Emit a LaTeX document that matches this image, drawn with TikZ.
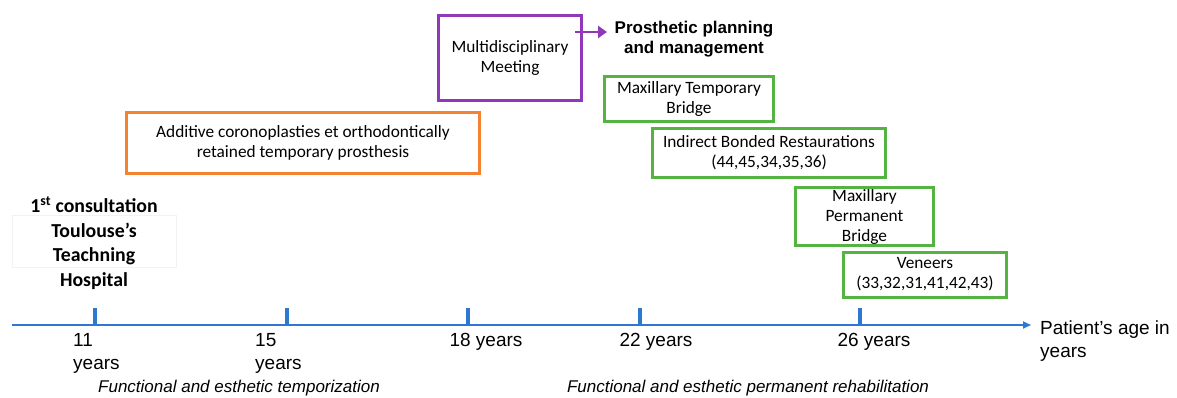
\documentclass[tikz,border=0pt]{standalone}
\usepackage{fontspec}
\setmainfont{Carlito}
\newfontfamily\arialfont{Liberation Sans}
\usetikzlibrary{arrows.meta}
\definecolor{tlblue}{RGB}{45,120,210}
\definecolor{mdpurple}{RGB}{145,55,185}
\definecolor{bxorange}{RGB}{245,130,50}
\definecolor{bxgreen}{RGB}{85,180,65}
\tikzset{
  box/.style={draw, line width=3pt, align=center, inner sep=0pt, font=\fontsize{17.3}{20}\selectfont},
  tick/.style={draw=tlblue, line width=3.5pt},
  agelbl/.style={font=\arialfont\fontsize{19}{23}\selectfont, align=left, inner sep=0pt},
  phase/.style={font=\arialfont\itshape\fontsize{17}{20}\selectfont, inner sep=0pt},
}
\begin{document}
\begin{tikzpicture}[x=1pt,y=-1pt]
\useasboundingbox (0,0) rectangle (1177,398);
% boxes
\node[box, draw=mdpurple, minimum width=143, minimum height=85] (mdm) at (510,58) {Multidisciplinary\\Meeting};
\node[box, draw=bxorange, minimum width=353, minimum height=61] (add) at (303,143) {Additive coronoplasties et orthodontically\\retained temporary prosthesis};
\node[box, draw=bxgreen, minimum width=169, minimum height=45] (mtb) at (689,99) {Maxillary Temporary\\Bridge};
\node[box, draw=bxgreen, minimum width=233, minimum height=49] (ibr) at (769,153) {Indirect Bonded Restaurations\\(44,45,34,35,36)};
\node[box, draw=bxgreen, minimum width=138, minimum height=58] (mpb) at (864.5,216.5) {Maxillary\\Permanent\\Bridge};
\node[box, draw=bxgreen, minimum width=163, minimum height=45] (ven) at (925,274.5) {Veneers\\(33,32,31,41,42,43)};
% prosthetic planning
\node[font=\arialfont\bfseries\fontsize{17}{20}\selectfont, align=center, inner sep=0pt] (ppm) at (694,39) {Prosthetic planning\\and management};
\coordinate (pa) at (575,32);
\coordinate (pb) at (607,32);
\draw[draw=mdpurple, line width=2.5pt, -{Triangle[length=9pt,width=12pt]}] (pa) -- (pb);
% first consultation
\draw[black!5, line width=0.6pt] (12,215) rectangle (176,267);
\node[font=\bfseries\fontsize{19.8}{24.5}\selectfont, align=center, inner sep=0pt] (first) at (94,243) {1\textsuperscript{st} consultation\\Toulouse's\\Teachning\\Hospital};
% timeline
\coordinate (tl0) at (12,325);
\coordinate (tl1) at (1031,325);
\draw[tlblue, line width=2pt, -{Triangle[length=8pt,width=7pt]}] (tl0) -- (tl1);
\foreach \xx/\nm in {95/a,287/b,468/c,640/d,860/e}{
  \coordinate (t\nm) at (\xx,325);
  \draw[tick] (t\nm) -- ++(0,-17);
}
\node[agelbl, anchor=north west] (l11) at (73,333) {11\\years};
\node[agelbl, anchor=north west] (l15) at (255,333) {15\\years};
\node[agelbl, anchor=north] (l18) at (486,333) {18 years};
\node[agelbl, anchor=north] (l22) at (656,333) {22 years};
\node[agelbl, anchor=north] (l26) at (874,333) {26 years};
\node[agelbl, anchor=north west] (pat) at (1040,321) {Patient’s age in\\years};
\node[phase] (ph1) at (239,388) {Functional and esthetic temporization};
\node[phase] (ph2) at (748,388) {Functional and esthetic permanent rehabilitation};
\end{tikzpicture}
\end{document}
